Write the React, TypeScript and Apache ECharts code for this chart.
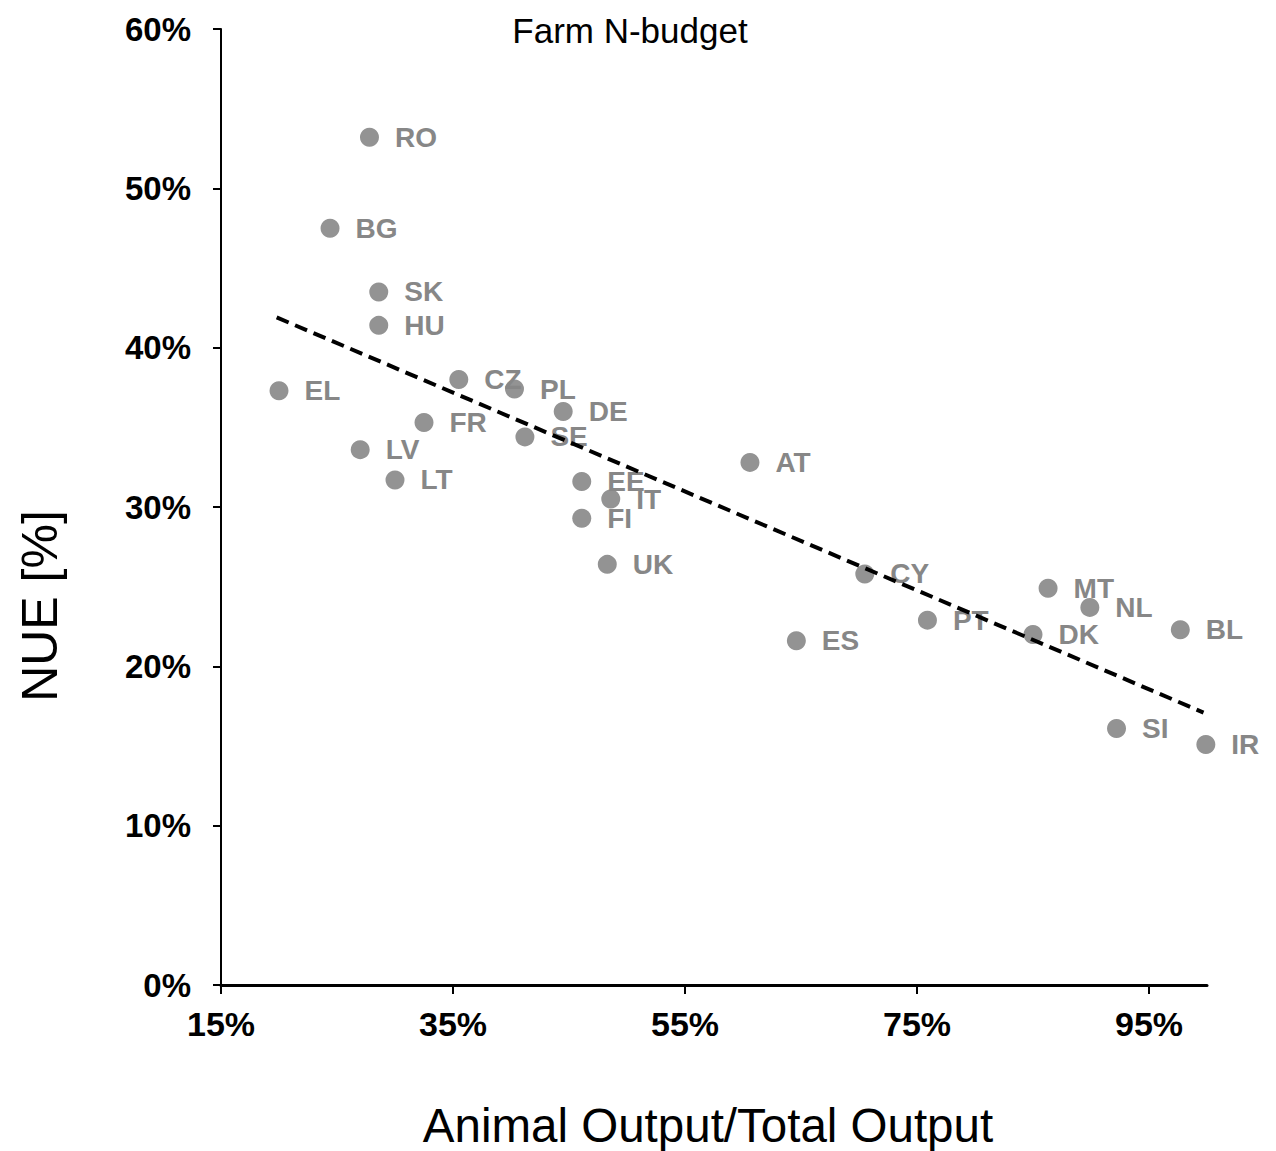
import React, { useEffect, useRef } from "react";
import * as echarts from "echarts";

const countries = ["RO","BG","SK","HU","EL","CZ","PL","DE","FR","SE","LV","LT","EE","IT","FI","UK","AT","CY","PT","ES","DK","MT","NL","BL","SI","IR"];
const animalShare = [27.8,24.4,28.6,28.6,20.0,35.5,40.3,44.5,32.5,41.2,27.0,30.0,46.1,48.6,46.1,48.3,60.6,70.5,75.9,64.6,85.0,86.3,89.9,97.7,92.2,99.9];
const nue = [53.2,47.5,43.5,41.4,37.3,38.0,37.4,36.0,35.3,34.4,33.6,31.7,31.6,30.5,29.3,26.4,32.8,25.8,22.9,21.6,22.0,24.9,23.7,22.3,16.1,15.1];
const trendX = [19.8, 99.7];
const trendY = [41.9, 17.1];
const xTicks = [15, 35, 55, 75, 95];

const FONT = "'Liberation Sans', Arial, sans-serif";

export default function App() {
  const ref = useRef<HTMLDivElement>(null);
  useEffect(() => {
    if (!ref.current) return;
    const chart = echarts.init(ref.current, null, { renderer: "svg" });
    chart.setOption({
      animation: false,
      backgroundColor: "#ffffff",
      grid: { left: 221, right: 69, top: 29, bottom: 166, containLabel: false },
      xAxis: {
        type: "value",
        min: 15,
        max: 100,
        splitLine: { show: false },
        axisLine: { show: true, lineStyle: { color: "#000", width: 3 } },
        axisTick: { show: true, customValues: xTicks, length: 9, lineStyle: { color: "#000", width: 2 } },
        axisLabel: {
          customValues: xTicks,
          formatter: "{value}%",
          color: "#000",
          fontFamily: FONT,
          fontWeight: "bold",
          fontSize: 34,
          margin: 22,
        },
      },
      yAxis: {
        type: "value",
        min: 0,
        max: 60,
        interval: 10,
        splitLine: { show: false },
        axisLine: { show: true, lineStyle: { color: "#000", width: 2 } },
        axisTick: { show: true, length: 8, lineStyle: { color: "#000", width: 2 } },
        axisLabel: {
          formatter: "{value}%",
          color: "#000",
          fontFamily: FONT,
          fontWeight: "bold",
          fontSize: 33,
          margin: 30,
        },
      },
      series: [
        {
          type: "scatter",
          z: 2,
          symbol: "circle",
          symbolSize: 19,
          itemStyle: { color: "#939393", opacity: 1 },
          data: countries.map((c, i) => ({ name: c, value: [animalShare[i], nue[i]] })),
          label: {
            show: true,
            position: "right",
            distance: 16,
            formatter: "{b}",
            color: "#878787",
            fontFamily: FONT,
            fontWeight: "bold",
            fontSize: 28,
          },
        },
        {
          type: "line",
          z: 5,
          symbol: "none",
          data: trendX.map((x, i) => [x, trendY[i]]),
          lineStyle: { color: "#000", width: 4, type: [13, 7] },
        },
      ],
      graphic: [
        {
          type: "text",
          x: 630,
          y: 30,
          style: {
            text: "Farm N-budget",
            fill: "#000",
            font: `35px ${FONT}`,
            textAlign: "center",
            textVerticalAlign: "middle",
          },
        },
        {
          type: "text",
          x: 40,
          y: 606,
          rotation: Math.PI / 2,
          style: {
            text: "NUE [%]",
            fill: "#000",
            font: `50px ${FONT}`,
            textAlign: "center",
            textVerticalAlign: "middle",
          },
        },
        {
          type: "text",
          x: 708,
          y: 1125,
          style: {
            text: "Animal Output/Total Output",
            fill: "#000",
            font: `47.5px ${FONT}`,
            textAlign: "center",
            textVerticalAlign: "middle",
          },
        },
      ],
    });
    return () => chart.dispose();
  }, []);
  return (
    <div
      ref={ref}
      style={{ position: "absolute", left: 0, top: 0, width: 1276, height: 1151 }}
    />
  );
}
